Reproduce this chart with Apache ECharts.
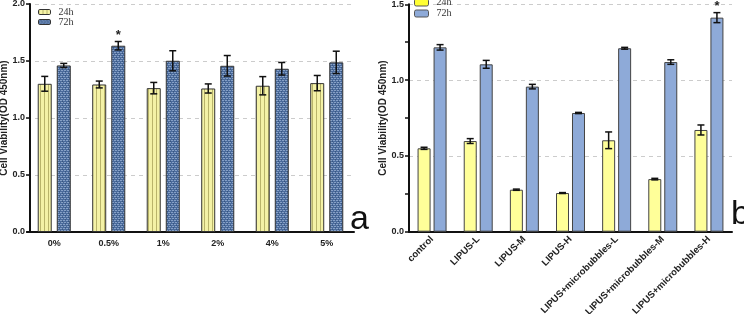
<!DOCTYPE html>
<html><head><meta charset="utf-8">
<script src="https://cdn.jsdelivr.net/npm/echarts@6/dist/echarts.min.js"></script>
<style>html,body{margin:0;padding:0;background:#fff}#c{width:744px;height:314px}</style>
</head><body><div id="c"></div>
<script>
// ---- data ----
var catsA = ['0%', '0.5%', '1%', '2%', '4%', '5%'];
var a24 = [1.30, 1.294, 1.262, 1.259, 1.283, 1.306];
var a24err = [0.065, 0.03, 0.05, 0.04, 0.08, 0.067];
var a72 = [1.461, 1.634, 1.502, 1.458, 1.432, 1.488];
var a72err = [0.018, 0.037, 0.088, 0.09, 0.055, 0.098];
var starsA = [null, '*', null, null, null, null];

var catsB = ['control', 'LIPUS-L', 'LIPUS-M', 'LIPUS-H', 'LIPUS+microbubbles-L', 'LIPUS+microbubbles-M', 'LIPUS+microbubbles-H'];
var b24 = [0.550, 0.598, 0.277, 0.255, 0.603, 0.347, 0.671];
var b24err = [0.007, 0.016, 0.004, 0.003, 0.055, 0.005, 0.033];
var b72 = [1.216, 1.104, 0.957, 0.783, 1.210, 1.119, 1.412];
var b72err = [0.018, 0.026, 0.015, 0.004, 0.006, 0.015, 0.033];
var starsB = [null, null, null, null, null, null, '*'];

var seriesNames = ['24h', '72h'];
var yTicksA = [0, 2.0, 0.5];
var yTicksB = [0, 1.5, 0.5];

// ---- patterns ----
function stripePattern() {
  var c = document.createElement('canvas'); c.width = 4; c.height = 4;
  var x = c.getContext('2d');
  x.fillStyle = '#f4f2a6'; x.fillRect(0, 0, 4, 4);
  x.fillStyle = '#b9b46a'; x.fillRect(0, 0, 1, 4);
  return c;
}
function brickPattern() {
  var c = document.createElement('canvas'); c.width = 6; c.height = 4;
  var x = c.getContext('2d');
  x.fillStyle = '#4a6a9b'; x.fillRect(0, 0, 6, 4);
  x.fillStyle = '#86a0c6';
  x.fillRect(0, 0, 2, 1); x.fillRect(3, 0, 2, 1);
  x.fillRect(1, 2, 2, 1); x.fillRect(4, 2, 2, 1);
  x.fillStyle = '#38567f';
  x.fillRect(2, 1, 1, 1); x.fillRect(5, 3, 1, 1);
  return c;
}
var pat24 = { image: stripePattern(), repeat: 'repeat' };
var pat72 = { image: brickPattern(), repeat: 'repeat' };

function errSeries(gi, vals, errs, offset, stars) {
  var d = vals.map(function (v, i) { return [i, v, errs[i], stars[i] || '']; });
  return {
    type: 'custom', xAxisIndex: gi, yAxisIndex: gi, z: 5, silent: true,
    data: d,
    renderItem: function (params, api) {
      var i = api.value(0), v = api.value(1), e = api.value(2);
      var hi = api.coord([i, v + e]), lo = api.coord([i, v - e]);
      var x = hi[0] + offset, cap = 3.5;
      var ch = [
        { type: 'line', shape: { x1: x, y1: hi[1], x2: x, y2: lo[1] }, style: { stroke: '#111', lineWidth: 1.5 } },
        { type: 'line', shape: { x1: x - cap, y1: hi[1], x2: x + cap, y2: hi[1] }, style: { stroke: '#111', lineWidth: 1.5 } },
        { type: 'line', shape: { x1: x - cap, y1: lo[1], x2: x + cap, y2: lo[1] }, style: { stroke: '#111', lineWidth: 1.5 } }
      ];
      var s = api.value(3);
      if (s && s !== '-' ) {
        ch.push({ type: 'text', x: x, y: hi[1] - 6, style: { text: '*', fill: '#222', font: 'bold 13px Arial', align: 'center', verticalAlign: 'middle' } });
      }
      return { type: 'group', children: ch };
    }
  };
}

var serif = '"Liberation Serif", "Times New Roman", serif';
var axisLine = { lineStyle: { color: '#111', width: 2 } };
var chart = echarts.init(document.getElementById('c'));
chart.setOption({
  animation: false,
  grid: [
    { left: 27, width: 327, top: 4, height: 228, outerBoundsMode: 'none', containLabel: false },
    { left: 409, width: 323, top: 4.3, height: 227.4, outerBoundsMode: 'none', containLabel: false }
  ],
  legend: [
    { left: 38, top: 7, orient: 'vertical', itemWidth: 12, itemHeight: 5, itemGap: 0, padding: 0,
      textStyle: { fontFamily: serif, fontSize: 10, color: '#333', lineHeight: 10, padding: [0, 0, 0, 3] },
      data: [{ name: '24h', itemStyle: { color: pat24, borderColor: '#333', borderWidth: 1 } },
             { name: '72h', itemStyle: { color: pat72, borderColor: '#333', borderWidth: 1 } }] },
    { left: 414, top: -3, orient: 'vertical', itemWidth: 14, itemHeight: 7, itemGap: 0, padding: 0,
      textStyle: { fontFamily: serif, fontSize: 10, color: '#333', lineHeight: 11, padding: [0, 0, 0, 3] },
      data: [{ name: '24h', itemStyle: { color: '#ffff33', borderColor: '#555', borderWidth: 1 } },
             { name: '72h', itemStyle: { color: '#8eaad8', borderColor: '#555', borderWidth: 1 } }] }
  ],
  xAxis: [
    { type: 'category', gridIndex: 0, data: catsA, axisLine: axisLine,
      axisTick: { alignWithLabel: true, length: 4, lineStyle: { color: '#111', width: 1.5 } },
      axisLabel: { fontFamily: 'Arial', fontWeight: 'bold', fontSize: 9, color: '#222', margin: 7 } },
    { type: 'category', gridIndex: 1, data: catsB, axisLine: axisLine,
      axisTick: { alignWithLabel: true, length: 4, lineStyle: { color: '#111', width: 1.5 } },
      axisLabel: { fontFamily: 'Arial', fontWeight: 'bold', fontSize: 9.5, color: '#222', rotate: 45, margin: 6, interval: 0 } }
  ],
  yAxis: [
    { type: 'value', gridIndex: 0, min: yTicksA[0], max: yTicksA[1], interval: yTicksA[2], offset: -3,
      name: 'Cell Viability(OD 450nm)', nameLocation: 'middle', nameGap: 21, nameMoveOverlap: false,
      nameTextStyle: { fontFamily: 'Arial', fontWeight: 'bold', fontSize: 10, color: '#222' },
      axisLine: { show: true, lineStyle: { color: '#111', width: 2 } },
      axisTick: { show: true, length: 4, lineStyle: { color: '#111', width: 1.5 } },
      axisLabel: { fontFamily: 'Arial', fontWeight: 'bold', fontSize: 9, color: '#222', margin: 5,
        formatter: function (v) { return v.toFixed(1); } },
      splitLine: { show: true, lineStyle: { color: '#ccc', type: [4, 4], width: 1 } } },
    { type: 'value', gridIndex: 1, min: yTicksB[0], max: yTicksB[1], interval: yTicksB[2],
      name: 'Cell Viability(OD 450nm)', nameLocation: 'middle', nameGap: 21, nameMoveOverlap: false,
      nameTextStyle: { fontFamily: 'Arial', fontWeight: 'bold', fontSize: 10, color: '#222' },
      axisLine: { show: true, lineStyle: { color: '#111', width: 2 } },
      axisTick: { show: true, length: 4, lineStyle: { color: '#111', width: 1.5 } },
      minorTick: { show: true, splitNumber: 2, length: 4, lineStyle: { color: '#111', width: 1.5 } },
      axisLabel: { fontFamily: 'Arial', fontWeight: 'bold', fontSize: 9, color: '#222', margin: 5,
        formatter: function (v) { return v.toFixed(1); } },
      splitLine: { show: true, lineStyle: { color: '#ccc', type: [4, 4], width: 1 } } }
  ],
  series: [
    { name: seriesNames[0], type: 'bar', xAxisIndex: 0, yAxisIndex: 0, data: a24, barWidth: 14, barGap: '36%',
      itemStyle: { color: pat24, borderColor: '#333', borderWidth: 1 } },
    { name: seriesNames[1], type: 'bar', xAxisIndex: 0, yAxisIndex: 0, data: a72, barWidth: 14, barGap: '36%',
      itemStyle: { color: pat72, borderColor: '#333', borderWidth: 1 } },
    { name: seriesNames[0], type: 'bar', xAxisIndex: 1, yAxisIndex: 1, data: b24, barWidth: 13, barGap: '23%',
      itemStyle: { color: '#ffff99', borderColor: '#444', borderWidth: 1 } },
    { name: seriesNames[1], type: 'bar', xAxisIndex: 1, yAxisIndex: 1, data: b72, barWidth: 13, barGap: '23%',
      itemStyle: { color: '#8eaad8', borderColor: '#444', borderWidth: 1 } },
    errSeries(0, a24, a24err, -9.5, a24.map(function(){return null;})),
    errSeries(0, a72, a72err, 9.5, starsA),
    errSeries(1, b24, b24err, -8, b24.map(function(){return null;})),
    errSeries(1, b72, b72err, 8, starsB)
  ],
  graphic: [
    { type: 'text', left: 350, top: 203, style: { text: 'a', font: '34px Arial', fill: '#111' } },
    { type: 'text', left: 731, top: 198, style: { text: 'b', font: '34px Arial', fill: '#111' } }
  ]
});
</script></body></html>
